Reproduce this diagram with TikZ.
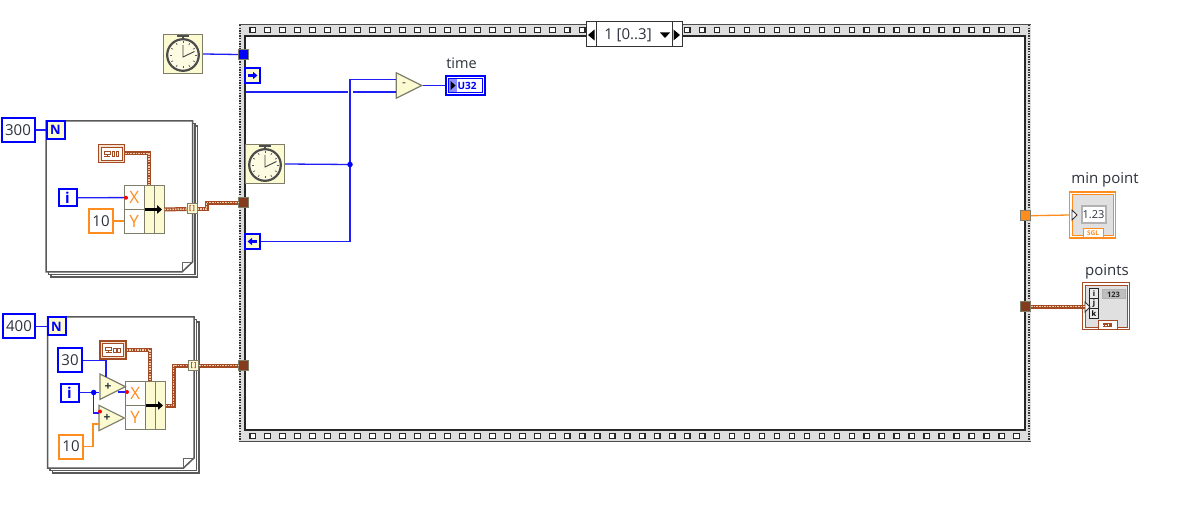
\documentclass[tikz,border=0pt]{standalone}
\usepackage{fontspec}
\setmainfont{Open Sans}
\usetikzlibrary{arrows.meta,shapes.geometric}

\definecolor{wireblue}{RGB}{30,30,245}
\definecolor{wireorange}{RGB}{255,140,30}
\definecolor{wirebrown}{RGB}{165,75,35}
\definecolor{wirelight}{RGB}{240,205,175}
\definecolor{cream}{RGB}{252,250,208}
\definecolor{edgegray}{RGB}{125,125,105}
\definecolor{filmgray}{RGB}{222,222,222}
\definecolor{textgray}{RGB}{45,50,60}

\newcommand{\sz}[1]{\fontsize{#1}{#1}\selectfont}

\tikzset{
every node/.style={inner sep=0pt,text=textgray},
wh/.style 2 args={minimum width=#1pt,minimum height=#2pt},
blueconst/.style={draw=blue,line width=2pt,fill=white,font=\sz{15}},
orangeconst/.style={draw=wireorange,line width=2pt,fill=white,font=\sz{15}},
bluelabel/.style={draw=blue,line width=2pt,fill=cream,text=blue,font=\bfseries\sz{13}},
terminal/.style={draw=edgegray,line width=0.8pt,wh={10}{10}},
shiftreg/.style={draw=blue,line width=1.1pt,fill=cream,wh={15}{15}},
tunnel/.style={draw=edgegray,line width=1pt,fill=cream,wh={10}{10},text=wirebrown,font=\bfseries\sz{7}},
clusterbox/.style={draw=wirebrown,line width=1.5pt,fill=wirelight!60,wh={26}{18}},
clusterinner/.style={draw=wirebrown,line width=0.7pt,fill=white,wh={21}{13}},
clockbox/.style={draw=edgegray,line width=1.2pt,fill=cream,wh={39}{39}},
gate/.style={isosceles triangle,isosceles triangle apex angle=60,isosceles triangle stretches,
draw=edgegray,line width=1.2pt,fill=cream,wh={25.5}{25.5},anchor=west},
cell/.style={draw=edgegray,line width=1pt,fill=white,text=wireorange,font=\sz{17}},
column/.style={draw=edgegray,line width=1pt,fill=cream},
reddot/.style={circle,fill=red,minimum size=4pt},
bluedot/.style={circle,fill=blue,minimum size=5.5pt},
caption/.style={font=\sz{15}},
bluewire/.style={draw=wireblue,line width=1.3pt},
orangewire/.style={draw=wireorange,line width=1.3pt},
clusterwire/.style={draw=wirebrown,line width=4pt,
postaction={draw=wirelight,line width=1.5pt,dash pattern=on 1.5pt off 1.1pt}},
bundle/.pic={
\node[cell,wh={19.5}{23.75}] (-x) at (-9.75,-11.9) {X};
\node[cell,wh={19.5}{23.75}] (-y) at (-9.75,11.9) {Y};
\node[column,wh={10}{47.5}] (-a) at (5,0) {};
\node[column,wh={10}{47.5}] (-b) at (15,0) {};
\draw[line width=3pt,-{Triangle[length=5pt,width=8.5pt]}] (1,0) -- (18,0);
},
timer/.pic={
\fill[black!70] (-6,-18.5) rectangle (6,-17);
\fill[black!70] (-1.2,-17) rectangle (1.2,-15);
\draw[draw=black!70,line width=2.2pt,fill=cream!60] (0,1) circle (15.8);
\foreach \a in {0,30,...,330}
{
\draw[black!65,line width=0.7pt] ([shift={(0,1)}]\a:11.5) -- ([shift={(0,1)}]\a:13.5);
}
\draw[black!75,line width=0.9pt] (0,-9) -- (0,3) -- (11.5,-2.5);
},
clusterglyph/.pic={
\draw[wirebrown,line width=0.8pt] (-7.5,-2.5) rectangle (-1.5,0.5);
\draw[wirebrown,line width=0.8pt] (-4.5,0.5) -- (-4.5,2.5);
\draw[wirebrown,line width=0.8pt] (-7.5,2.5) -- (-1.5,2.5);
\draw[wirebrown,line width=0.8pt] (0.5,-2) rectangle (3,2.5);
\draw[wirebrown,line width=0.8pt] (4.5,-2) rectangle (7,2.5);
},
stacked/.pic={
\foreach \d in {5,2.5}
{
\draw[black!65,line width=1.5pt,fill=white] (\d,\d) rectangle ++(146.5,151);
}
\draw[black!65,line width=1.5pt,fill=white] (0,0) -- (146.5,0) -- (146.5,141) -- (136,151) -- (0,151) -- cycle;
\draw[black!60,line width=0.9pt] (146.5,141) -- (136,141) -- (136,151);
}
}

\begin{document}
\begin{tikzpicture}[x=1pt,y=-1pt]

\path[use as bounding box,fill=white] (0,0) rectangle (1191,510);

% Film strip
\fill[filmgray] (238.5,24.5) rectangle (1030.5,441.5);
\draw[black!70,line width=1pt] (238.5,24.5) -- (1030.5,24.5);
\draw[black!70,line width=1pt] (238.5,441.5) -- (1030.5,441.5);
\draw[black!85,line width=1.6pt,fill=white] (245,36) rectangle (1025,430);

\foreach \x in {240,1029}
{
\draw[black!80,line width=2pt,dash pattern=on 1.4pt off 1.2pt] (\x,25) -- (\x,441);
}

\foreach \x in {252.7,267.68,...,1018}
{
\draw[black!85,line width=1.2pt,fill=white] (\x-2.8,27.2) rectangle ++(5.6,5.6);
\draw[black!85,line width=1.2pt,fill=white] (\x-2.8,433.2) rectangle ++(5.6,5.6);
}

% Selector
\node[draw=black!80,line width=1pt,fill=white,wh={96}{25}] (selector) at (634,34.5) {};
\node[draw=black!80,line width=1pt,wh={10}{25}] (selprev) at (591,34.5) {};
\node[draw=black!80,line width=1pt,wh={10}{25}] (selnext) at (677,34.5) {};
\node[font=\sz{15}] (selcase) at (628,35) {1 [0..3]};
\fill[black] (660,32.5) -- (670,32.5) -- (665,38) -- cycle;
\fill[black] (594.5,29.5) -- (594.5,40.5) -- (588,35) -- cycle;
\fill[black] (673.5,29.5) -- (673.5,40.5) -- (680,35) -- cycle;

% First loop
\pic at (46,121) {stacked};
\node[blueconst,wh={33}{24}] (countA) at (18,130) {300};
\node[bluelabel,wh={18}{18}] (loopA) at (55.5,130) {N};
\node[blueconst,wh={18}{17},text=blue,font=\bfseries\sz{15}] (iterA) at (67.5,197.75) {i};
\node[orangeconst,wh={24}{24}] (tenA) at (101,221) {10};
\node[clusterbox] (clusterA) at (111.5,153.5) {};
\node[clusterinner] (clusterAin) at (111.5,153.5) {};
\pic at (111.5,153.5) {clusterglyph};
\pic (bundleA) at (144,209.5) {bundle};
\node[tunnel] (tunnelA) at (192,209) {[\,]};

% Second loop
\pic at (47.5,317) {stacked};
\node[blueconst,wh={32}{24}] (countB) at (19,326.5) {400};
\node[bluelabel,wh={18}{18}] (loopB) at (56.5,326.5) {N};
\node[blueconst,wh={24}{24}] (thirtyB) at (70,360.5) {30};
\node[blueconst,wh={18}{18},text=blue,font=\bfseries\sz{15}] (iterB) at (69.5,392.5) {i};
\node[orangeconst,wh={24}{24}] (tenB) at (71,446.5) {10};
\node[clusterbox] (clusterB) at (113,350) {};
\node[clusterinner] (clusterBin) at (113,350) {};
\pic at (113,350) {clusterglyph};
\pic (bundleB) at (145,405.5) {bundle};
\node[gate] (adderA) at (99.3,386.7) {};
\node[gate] (adderB) at (98.3,418) {};
\node[font=\bfseries\sz{12}] (plusA) at (108,386.7) {+};
\node[font=\bfseries\sz{12}] (plusB) at (107,418) {+};
\node[tunnel] (tunnelB) at (193.5,365.7) {[\,]};

% Terminals on the frame
\node[terminal,fill=blue] (termclock) at (243.5,54.5) {};
\node[terminal,fill=wirebrown!80!black] (termA) at (243.5,202.7) {};
\node[terminal,fill=wirebrown!80!black] (termB) at (243.5,365.7) {};
\node[terminal,fill=wireorange] (termmin) at (1025.8,215.7) {};
\node[terminal,fill=wirebrown!80!black] (termpoints) at (1025.8,306.7) {};
\node[shiftreg] (shiftR) at (252.5,75.5) {};
\node[shiftreg] (shiftL) at (252.5,241.5) {};
\draw[blue,line width=2.2pt,-{Triangle[length=4.5pt,width=7pt]}] (248,75.5) -- (257.5,75.5);
\draw[blue,line width=2.2pt,-{Triangle[length=4.5pt,width=7pt]}] (257,241.5) -- (247.5,241.5);

% Timers
\node[clockbox] (clockout) at (183,54) {};
\pic at (183,54) {timer};
\node[clockbox] (clockin) at (265,164) {};
\pic at (265,164) {timer};

% Subtract and time
\node[gate] (minus) at (395.7,85.5) {};
\node[font=\sz{12}] (minussign) at (404,85) {-};
\node[draw=blue,line width=1.3pt,fill=white,wh={39}{19}] (timeind) at (465.5,85.5) {};
\node[draw=blue,line width=1pt,fill=white,wh={34}{14}] (timeinner) at (465.5,85.5) {};
\fill[blue!45] (449,79) rectangle (456.5,92);
\fill[black] (450.5,81) -- (455.5,85.5) -- (450.5,90) -- cycle;
\node[text=blue,font=\bfseries\sz{10}] (timetype) at (467,85.5) {U32};
\node[caption,font=\sz{14.5}] (timelabel) at (461.5,63) {time};

% min point
\node[draw=wireorange,line width=1.3pt,fill=white,wh={46}{46}] (minind) at (1092.7,215) {};
\node[draw=wireorange,line width=1.1pt,fill=black!12,wh={41}{41}] (mininner) at (1092.7,215) {};
\node[draw=black!30,line width=2pt,fill=white,wh={24}{17},font=\sz{11}] (mindisplay) at (1093.5,215) {1.23};
\draw[black!80,line width=0.9pt,fill=white] (1072,210) -- (1077,215) -- (1072,220) -- cycle;
\node[draw=wireorange,line width=0.9pt,fill=white,wh={20}{9},text=wireorange,font=\bfseries\sz{6.5}] (mintype) at (1093,233) {SGL};
\node[caption] (minlabel) at (1105,180) {min point};

% points
\node[draw=wirebrown,line width=1.3pt,fill=white,wh={47}{47}] (pointsind) at (1106.3,306.2) {};
\node[draw=wirebrown,line width=1.1pt,fill=black!12,wh={42}{42}] (pointsinner) at (1106.3,306.2) {};
\foreach \y/\t in {294/i,304/j,314/k}
{
\node[draw=black!85,line width=1pt,fill=black!8,wh={9.5}{10},text=black,font=\bfseries\sz{7.5}] at (1094,\y) {\t};
}
\node[draw=black!30,line width=1pt,fill=black!25,wh={23}{9},text=black!85,font=\bfseries\sz{7.5}] (pointsnum) at (1113.5,294.5) {123};
\draw[black!80,line width=0.9pt,fill=white] (1085,302) -- (1090,307) -- (1085,312) -- cycle;
\node[draw=wirebrown,line width=0.9pt,fill=white,wh={19}{9}] (pointstype) at (1107.5,324.5) {};
\pic[scale=0.6] at (1107.5,324.5) {clusterglyph};
\node[caption] (pointslabel) at (1107,271.5) {points};

\coordinate (shifttap) at (245.5,92);
\coordinate (minusU) at (396,79.5);
\coordinate (minusL) at (396,92);
\coordinate (junction) at (350,164.5);
\coordinate (adderAtop) at (106,377.5);
\coordinate (adderAout) at (117.5,392);
\coordinate (adderBin) at (98.5,424);
\coordinate (adderBred) at (98.5,413);
\coordinate (iterfork) at (93.7,392.5);

% Wires
\draw[bluewire] (clockout.east) -- (termclock.west);
\draw[bluewire] (countA.east) -- (loopA.west);
\draw[bluewire] (countB.east) -- (loopB.west);
\draw[bluewire] (iterA.east) -- (bundleA-x.west);
\draw[orangewire] (tenA.east) -- (tenA.east -| bundleA-y.west);
\draw[clusterwire] (clusterA.east) -| (bundleA-a.north);
\draw[clusterwire] (bundleA-b.east) -- (tunnelA.west);
\draw[clusterwire] (tunnelA.east) -- ++(9,0) |- (termA.west);
\draw[bluewire] (thirtyB.east) -| (adderAtop);
\draw[bluewire] (iterB.east) -- (adderA.west |- iterfork);
\draw[bluewire] (iterfork) |- (adderBred);
\draw[bluewire] (adderAout) -- (adderAout -| bundleB-x.west);
\draw[orangewire] (adderB.east) -- (bundleB-y.west);
\draw[orangewire] (tenB.east) -- ++(9,0) |- (adderBin);
\draw[clusterwire] (clusterB.east) -| (bundleB-a.north);
\draw[clusterwire] (bundleB-b.east) -- ++(8,0) |- (tunnelB.west);
\draw[clusterwire] (tunnelB.east) -- (termB.west);
\draw[bluewire] (shifttap) -- (minusL);
\draw[white,line width=5pt] (350,87) -- (350,97);
\draw[bluewire] (shiftL.east) -| (minusU -| junction) -- (minusU);
\draw[bluewire] (clockin.east) -- (junction);
\draw[bluewire] (minus.east) -- (timeind.west);
\draw[orangewire] (termmin.east) -- (minind.west);
\draw[clusterwire] (termpoints.east) -- (1085,306.7);

% Dots
\node[bluedot] (dotjunction) at (junction) {};
\node[bluedot] (dotfork) at (iterfork) {};
\node[reddot] (redA) at (126,197.75) {};
\node[reddot] (redB) at (127,392) {};
\node[reddot] (redC) at (100,411.5) {};

\end{tikzpicture}
\end{document}
